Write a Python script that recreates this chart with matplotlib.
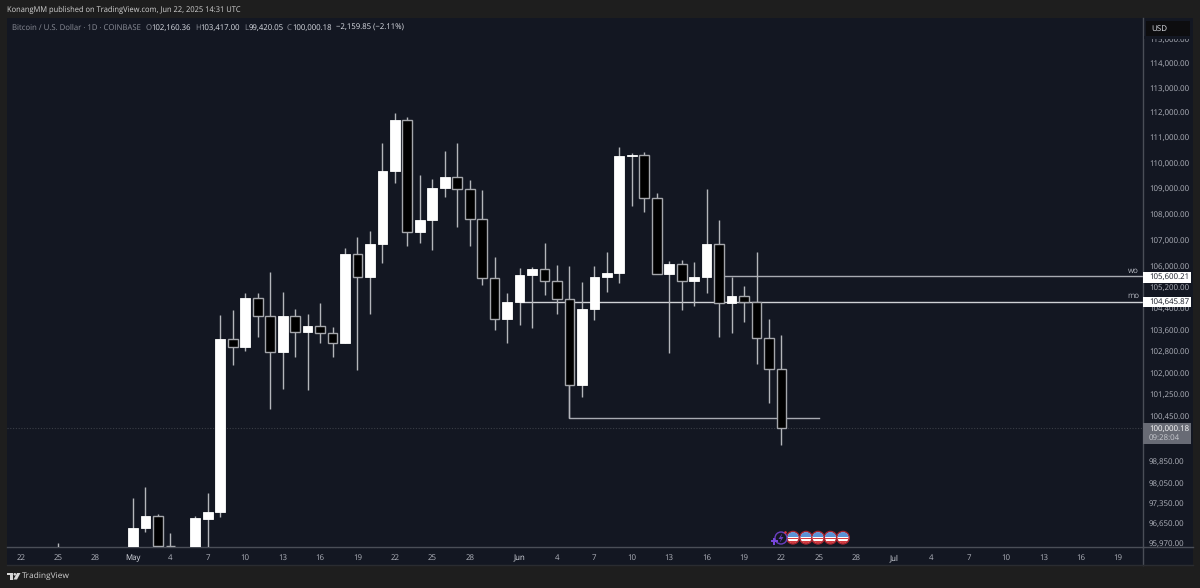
import numpy as np
import pandas as pd
import matplotlib
matplotlib.use("Agg")
import matplotlib.pyplot as plt
import matplotlib.dates as mdates
from matplotlib.patches import Rectangle, Circle, Polygon
from matplotlib.lines import Line2D
from matplotlib.transforms import IdentityTransform

plt.rcParams['font.family'] = ['Open Sans', 'DejaVu Sans']
plt.rcParams['text.hinting'] = 'no_hinting'

# daily candles
dates = ["2025-04-25", "2025-05-01", "2025-05-02", "2025-05-03", "2025-05-04", "2025-05-06", "2025-05-07", "2025-05-08",
         "2025-05-09", "2025-05-10", "2025-05-11", "2025-05-12", "2025-05-13", "2025-05-14", "2025-05-15", "2025-05-16",
         "2025-05-17", "2025-05-18", "2025-05-19", "2025-05-20", "2025-05-21", "2025-05-22", "2025-05-23", "2025-05-24",
         "2025-05-25", "2025-05-26", "2025-05-27", "2025-05-28", "2025-05-29", "2025-05-30", "2025-05-31", "2025-06-01",
         "2025-06-02", "2025-06-03", "2025-06-04", "2025-06-05", "2025-06-06", "2025-06-07", "2025-06-08", "2025-06-09",
         "2025-06-10", "2025-06-11", "2025-06-12", "2025-06-13", "2025-06-14", "2025-06-15", "2025-06-16", "2025-06-17",
         "2025-06-18", "2025-06-19", "2025-06-20", "2025-06-21", "2025-06-22"]
opens = [94700, 94200, 96500, 96916, 95880, 94800, 96812, 97034,
         103247, 102950, 104785, 104114, 102775, 104114, 103519, 103753,
         103470, 103121, 106452, 105592, 106846, 109672, 111697, 107298,
         107761, 109014, 109424, 108953, 107800, 105531, 104002, 104623,
         105668, 105873, 105418, 104736, 101556, 104363, 105592, 105744,
         110261, 110289, 108623, 105683, 106085, 105441, 105569, 106832,
         104586, 104872, 104623, 103306, 102160.36]
highs = [95960, 97542, 97930, 96965, 96316, 96906, 97719, 104151,
         104337, 104986, 104975, 105759, 105024, 104363, 104188, 104609,
         103716, 106670, 107116, 107348, 110765, 111965, 111805, 109503,
         109346, 110458, 110789, 109319, 108925, 106350, 104963, 105910,
         105971, 106885, 106036, 105998, 105403, 105998, 106528, 110605,
         110391, 110407, 108800, 106198, 106225, 106161, 108964, 107761,
         105569, 105240, 106540, 103991, 103417.00]
lows = [93000, 94100, 96361, 95700, 94100, 94700, 95700, 96881,
        102299, 102811, 103344, 100686, 101421, 102581, 101373, 103096,
        102581, 103100, 102116, 104177, 106100, 109188, 106769, 106862,
        106604, 108663, 107502, 106769, 105277, 103593, 103096, 103779,
        103679, 104899, 104188, 100363, 101117, 103965, 105001, 105342,
        108313, 108058, 105683, 102727, 104326, 104486, 104963, 103344,
        103490, 103879, 102336, 100902, 99420.05]
closes = [94650, 96500, 96916, 95880, 95860, 96826, 97034, 103247,
          102950, 104785, 104114, 102775, 104114, 103519, 103753, 103470,
          103121, 106452, 105592, 106846, 109672, 111697, 107298, 107761,
          109014, 109424, 108953, 107800, 105531, 104002, 104623, 105668,
          105873, 105418, 104736, 101556, 104363, 105592, 105744, 110261,
          110289, 108623, 105683, 106085, 105441, 105569, 106832, 104586,
          104872, 104623, 103306, 102160.36, 100000.18]

price_ticks = [115000, 114000, 113000, 112000, 111000, 110000, 109000, 108000, 107000, 106000,
               105200, 104400, 103600, 102800, 102000, 101250, 100450, 98850, 98050, 97350, 96650, 95970]

time_tick_dates = ["2025-04-22", "2025-04-25", "2025-04-28", "2025-05-01", "2025-05-04", "2025-05-07", "2025-05-10",
                   "2025-05-13", "2025-05-16", "2025-05-19", "2025-05-22", "2025-05-25", "2025-05-28", "2025-06-01",
                   "2025-06-04", "2025-06-07", "2025-06-10", "2025-06-13", "2025-06-16", "2025-06-19", "2025-06-22",
                   "2025-06-25", "2025-06-28", "2025-07-01", "2025-07-04", "2025-07-07", "2025-07-10", "2025-07-13",
                   "2025-07-16", "2025-07-19"]
time_tick_labels = ["22", "25", "28", "May", "4", "7", "10", "13", "16", "19", "22", "25", "28", "Jun",
                    "4", "7", "10", "13", "16", "19", "22", "25", "28", "Jul", "4", "7", "10", "13", "16", "19"]

# drawn levels
wo_level = 105600.21
mo_level = 104645.87
low_level = 100363
last_price = 100000.18

W, H = 1200, 588
BG = '#1e1e1e'
PANE = '#131722'
EDGE = '#4a4e57'
GREY = '#b2b5be'
FS = 5.7

fig = plt.figure(figsize=(W / 100, H / 100), dpi=100, facecolor=BG)


def px(x0, y0, x1, y1):
    # rectangle in picture pixels (y down) as figure fractions
    return [x0 / W, 1 - y1 / H, (x1 - x0) / W, (y1 - y0) / H]


def rect(x0, y0, x1, y1, **kw):
    fig.add_artist(Rectangle((x0, H - y1), x1 - x0, y1 - y0, transform=IdentityTransform(), **kw))


def hline(x0, y0, x1, y1, **kw):
    fig.add_artist(Line2D([x0, x1], [H - y0, H - y1], transform=IdentityTransform(), **kw))


def ftext(x, y, s, **kw):
    kw.setdefault('va', 'center')
    kw.setdefault('fontsize', FS)
    return fig.text(x / W, 1 - y / H, s, **kw)


ax = fig.add_axes(px(7, 18, 1143, 547), facecolor=PANE)
may1 = mdates.date2num(pd.Timestamp("2025-05-01"))
day_px = 12.47
ax.set_xlim(may1 + (7 - 133) / day_px, may1 + (1143 - 133) / day_px)
ax.set_yscale('log')
ax.set_ylim(95832, 115855)

x = mdates.date2num(pd.to_datetime(dates))
o = np.array(opens)
c = np.array(closes)
up = c >= o

ax.axhline(last_price, color='#3a3e46', lw=0.8, ls=(0, (1, 1.5)), zorder=1)

# levels sit behind the candles
d = lambda s: mdates.date2num(pd.Timestamp(s))
ax.plot([d("2025-06-17"), ax.get_xlim()[1]], [wo_level, wo_level], color='#a8abb2', lw=1, zorder=2)
ax.plot([d("2025-06-01"), ax.get_xlim()[1]], [mo_level, mo_level], color='#d0d2d6', lw=1, zorder=2)
ax.plot([d("2025-06-05"), d("2025-06-05"), d("2025-06-25")], [104000, low_level, low_level], color='#a8abb2', lw=1, zorder=2)

ax.vlines(x, lows, highs, color='#b4b6bb', lw=1, zorder=3)
bottoms = np.minimum(o, c)
heights = np.abs(c - o)
ax.bar(x[up], heights[up], bottom=bottoms[up], width=0.78, color='white', edgecolor='white', lw=0.6, zorder=4)
ax.bar(x[~up], heights[~up], bottom=bottoms[~up], width=0.78, color='black', edgecolor='#a4a6ab', lw=1, zorder=4)

for side in ['left', 'top']:
    ax.spines[side].set_visible(False)
for side in ['right', 'bottom']:
    ax.spines[side].set_color(EDGE)
    ax.spines[side].set_linewidth(1)

ax.yaxis.tick_right()
ax.set_yticks(price_ticks)
ax.set_yticklabels([f"{p:,.2f}" for p in price_ticks])
ax.tick_params(axis='y', length=0, pad=4.2, labelsize=FS, labelcolor=GREY)
ax.set_xticks(mdates.date2num(pd.to_datetime(time_tick_dates)))
ax.set_xticklabels(time_tick_labels)
ax.tick_params(axis='x', length=0, pad=5, labelsize=FS, labelcolor=GREY)
ax.minorticks_off()
for t in ax.get_xticklabels():
    if t.get_text() in ("May", "Jun", "Jul"):
        t.set_color('#e0e3ea')

# panes around the plot area
fig.patches.append(Rectangle((7 / W, 1 - 565 / H), 1186 / W, 547 / H, transform=fig.transFigure,
                             facecolor=PANE, edgecolor='none', zorder=-5))
fig.patches[-1].set_figure(fig)
hline(1143, 547, 1193, 547, color=EDGE, lw=1)
hline(1143, 547, 1143, 565, color=EDGE, lw=1)
hline(7, 565, 1193, 565, color='#2a2c31', lw=1)

# header lines
ftext(7, 10, "KonangMM published on TradingView.com, Jun 22, 2025 14:31 UTC", color='#d4d4d4', fontsize=5.45)
ftext(11.5, 28, "Bitcoin / U.S. Dollar · 1D · COINBASE", color='#8b8e98', fontsize=5.6)
for lx, letter, vx, val in [(146, "O", 151, "102,160.36"), (195, "H", 200, "103,417.00"),
                            (244, "L", 248.5, "99,420.05"), (287, "C", 292, "100,000.18")]:
    ftext(lx, 28, letter, color='#8b8e98', fontsize=5.6)
    ftext(vx, 28, val, color='#e0e3ea', fontsize=5.6)
ftext(336, 28, "−2,159.85 (−2.11%)", color='#e0e3ea', fontsize=5.6)

# USD box and price labels over the axis
rect(1144, 36, 1192, 38.5, facecolor=PANE, edgecolor='none', zorder=5)
rect(1146, 21, 1190, 36, facecolor='#0d0d0f', edgecolor='none', zorder=5)
ftext(1151, 28.5, "USD", color='#e0e3ea', fontsize=5.8, zorder=6)

rect(1143, 272, 1191, 282.7, facecolor='white', edgecolor='none', zorder=5)
ftext(1149, 277.3, f"{wo_level:,.2f}", color='#131722', zorder=6)
rect(1143, 297, 1191, 307.3, facecolor='white', edgecolor='none', zorder=5)
ftext(1149, 302.3, f"{mo_level:,.2f}", color='#131722', zorder=6)
ftext(1133, 270.5, "wo", color='#b2b5be', ha='center', zorder=6)
ftext(1133, 296, "mo", color='#b2b5be', ha='center', zorder=6)

rect(1143, 423, 1191, 444, facecolor='#686b75', edgecolor='none', zorder=5)
ftext(1149, 428.5, f"{last_price:,.2f}", color='white', zorder=6)
ftext(1149, 438, "09:28:04", color='#c8cad0', zorder=6)

# event icons near the time axis
for cx in [793, 806, 818, 830.5, 843]:
    cy = H - 537.7
    ring = Circle((cx, cy), 6.2, transform=IdentityTransform(), facecolor='white', edgecolor='#a8242f', lw=1.1, zorder=6)
    fig.add_artist(ring)
    clip = Circle((cx, cy), 5.6, transform=IdentityTransform())
    for top, h, col in [(-5.6, 5.0, '#5b93d6'), (0.0, 1.6, '#d23a3f'), (3.0, 2.8, '#d23a3f')]:
        s = Rectangle((cx - 6, cy - top - h), 12, h, transform=IdentityTransform(), facecolor=col, edgecolor='none', zorder=7)
        fig.add_artist(s)
        s.set_clip_path(clip)
fig.add_artist(Circle((781, H - 538), 6, transform=IdentityTransform(), facecolor=PANE, edgecolor='#6a3fc0', lw=1, zorder=6))
fig.add_artist(Polygon([(782.5, H - 533), (778.5, H - 539), (781, H - 539), (779.5, H - 543), (783.5, H - 537), (781, H - 537)],
                       transform=IdentityTransform(), facecolor='#6a3fc0', edgecolor='none', zorder=7))
hline(771.5, 541, 776.5, 541, color='#7b48e0', lw=1.4, zorder=7)
hline(774, 538.5, 774, 543.5, color='#7b48e0', lw=1.4, zorder=7)
fig.add_artist(Circle((785.5, H - 532.5), 1.3, transform=IdentityTransform(), facecolor='#e0343c', edgecolor='none', zorder=8))

# footer logo and name
lc = '#d8d8d8'
rect(7, 573, 13, 575.3, facecolor=lc, edgecolor='none')
rect(10, 573, 13, 579.5, facecolor=lc, edgecolor='none')
fig.add_artist(Circle((14.8, H - 574.3), 1.3, transform=IdentityTransform(), facecolor=lc, edgecolor='none'))
fig.add_artist(Polygon([(17, H - 573), (20.5, H - 573), (17, H - 579.5), (13.5, H - 579.5)],
                       transform=IdentityTransform(), facecolor=lc, edgecolor='none'))
ftext(22, 576.5, "TradingView", color='#d0d0d0', fontsize=6.0)

fig.savefig('out.png', dpi=100, facecolor=BG)
